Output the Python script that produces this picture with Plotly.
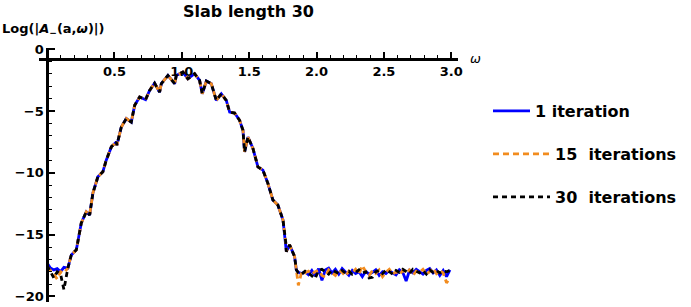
import plotly.graph_objects as go

# ---- data ----
omega_low = [0.000, 0.025, 0.050, 0.075, 0.100, 0.125]
logA_low_1 = [-17.3, -17.7, -17.85, -17.75, -18.0, -17.65]
logA_low_15 = [-17.6, -17.9, -18.2, -18.6, -18.0, -18.1]
logA_low_30 = [-17.5, -18.0, -18.5, -18.0, -18.2, -19.45]

omega_main = [0.154, 0.180, 0.217, 0.254, 0.291, 0.316, 0.340, 0.377, 0.414, 0.439,
              0.477, 0.514, 0.518, 0.551, 0.588, 0.625, 0.650, 0.687, 0.731, 0.761,
              0.798, 0.835, 0.848, 0.897, 0.947, 0.959, 1.008, 1.045, 1.095, 1.132,
              1.152, 1.182, 1.219, 1.256, 1.293, 1.330, 1.355, 1.392, 1.429, 1.454,
              1.466, 1.491, 1.528, 1.565, 1.602, 1.639, 1.676, 1.713, 1.751, 1.771,
              1.776, 1.800, 1.837, 1.850]
logA_main = [-17.71, -16.64, -16.23, -14.06, -13.15, -13.41, -11.64, -10.32, -9.92, -8.98,
             -7.90, -7.50, -7.77, -6.29, -5.61, -5.89, -4.54, -3.87, -4.08, -3.33,
             -2.74, -3.47, -2.79, -2.12, -2.79, -2.12, -1.85, -2.39, -1.98, -2.52,
             -3.60, -2.58, -2.79, -4.14, -3.60, -4.14, -5.08, -5.16, -5.75, -6.56,
             -8.31, -7.10, -8.03, -9.52, -9.78, -10.85, -12.20, -12.60, -13.81, -15.56,
             -16.37, -15.83, -16.77, -17.85]

omega_high = [1.865, 1.890, 1.915, 1.940, 1.965, 1.990, 2.015, 2.040, 2.065, 2.090,
              2.115, 2.140, 2.165, 2.190, 2.215, 2.240, 2.265, 2.290, 2.315, 2.340,
              2.365, 2.390, 2.415, 2.440, 2.465, 2.490, 2.515, 2.540, 2.565, 2.590,
              2.615, 2.640, 2.665, 2.690, 2.715, 2.740, 2.765, 2.790, 2.815, 2.840,
              2.865, 2.890, 2.915, 2.940, 2.965, 2.990]
logA_high_1 = [-18.05, -18.15, -18.0, -18.25, -17.9, -18.35, -17.75, -18.7, -17.85, -17.7,
               -18.1, -17.8, -18.2, -17.75, -18.05, -18.3, -17.9, -18.15, -18.0, -18.4,
               -17.95, -18.2, -18.05, -17.85, -18.3, -18.0, -18.15, -17.9, -18.1, -18.25,
               -17.85, -18.05, -18.75, -17.9, -18.1, -17.8, -18.0, -18.2, -17.9, -17.75,
               -18.1, -17.85, -18.3, -17.9, -18.4, -17.85]
logA_high_15 = [-19.1, -18.0, -18.1, -17.95, -18.2, -18.0, -17.9, -18.3, -18.45, -17.85,
                -18.1, -18.3, -17.9, -18.05, -18.35, -17.95, -18.1, -17.8, -18.2, -17.5,
                -18.0, -18.3, -17.9, -18.15, -17.85, -18.4, -18.05, -17.8, -18.2, -18.0,
                -18.25, -17.9, -18.1, -17.85, -18.3, -17.95, -18.05, -17.8, -18.2, -18.0,
                -17.7, -18.15, -17.9, -18.1, -18.9, -18.5]
logA_high_30 = [-18.1, -18.2, -17.95, -18.1, -18.3, -18.55, -17.9, -17.8, -18.0, -18.2,
                -17.85, -18.0, -18.15, -17.9, -18.1, -17.95, -18.2, -18.05, -17.85, -18.1,
                -18.0, -18.5, -18.45, -18.0, -17.9, -18.15, -17.85, -18.0, -18.2, -17.9,
                -18.05, -17.8, -18.0, -18.15, -17.8, -17.95, -18.1, -17.9, -18.2, -17.85,
                -18.05, -17.9, -18.1, -17.95, -18.0, -17.9]

series_names = ["1 iteration", "15\u00a0\u00a0iterations", "30\u00a0\u00a0iterations"]
series_colors = ["#0000FF", "#F28C1E", "#000000"]
x_ticks = [0.5, 1.0, 1.5, 2.0, 2.5, 3.0]
y_ticks = [0, -5, -10, -15, -20]

omega_all = omega_low + omega_main + omega_high
series_y = [logA_low_1 + logA_main + logA_high_1,
            logA_low_15 + logA_main + logA_high_15,
            logA_low_30 + logA_main + logA_high_30]
dashes = ["solid", "6px,4px", "5px,4px"]
legends = ["legend", "legend2", "legend3"]

fig = go.Figure()
for name, col, ys, d, lg in zip(series_names, series_colors, series_y, dashes, legends):
    fig.add_trace(go.Scatter(x=omega_all, y=ys, mode="lines", name=name, showlegend=True,
                             line=dict(color=col, width=2.8, dash=d), legend=lg))

W, H = 691, 307
ml, mr, mt, mb = 39, 233, 48, 5
pw, ph = W - ml - mr, H - mt - mb
xr = [-0.06, 3.05]
yr = [-20.45, 0.1]
x_axis_at = -0.8
xpos = (x_axis_at - yr[0]) / (yr[1] - yr[0])
ypos = (0 - xr[0]) / (xr[1] - xr[0])

def px_x(p):
    return (p - ml) / pw

def px_y(p):
    return (H - mb - p) / ph

font_b = dict(family="DejaVu Sans", size=13, color="black", weight="bold")
leg_font = dict(family="DejaVu Sans", size=16, color="black", weight="bold")

fig.update_layout(
    width=W, height=H, autosize=False, showlegend=True,
    margin=dict(l=ml, r=mr, t=mt, b=mb, pad=0, autoexpand=False),
    paper_bgcolor="white", plot_bgcolor="white",
    title=dict(text="Slab length 30", x=0.5, xref="paper", xanchor="center",
               y=1 - 11 / H, yanchor="middle",
               font=dict(family="DejaVu Sans", size=16, color="black", weight="bold")),
    xaxis=dict(range=xr, anchor="free", position=xpos, showline=True, linecolor="black",
               linewidth=2.5, showgrid=False, zeroline=False, ticks="inside", ticklen=6,
               tickwidth=1.5, tickcolor="black", tickvals=x_ticks, tickformat=".1f",
               tickfont=font_b, automargin=False,
               minor=dict(dtick=0.1, tick0=0, ticks="inside", ticklen=3, tickwidth=1.2,
                          tickcolor="black", showgrid=False)),
    yaxis=dict(range=yr, anchor="free", position=ypos, showline=True, linecolor="black",
               linewidth=2.5, showgrid=False, zeroline=False, ticks="inside", ticklen=6,
               tickwidth=1.5, tickcolor="black", tickvals=y_ticks, tickfont=font_b,
               automargin=False,
               minor=dict(dtick=1, tick0=0, ticks="inside", ticklen=3, tickwidth=1.2,
                          tickcolor="black", showgrid=False)),
    legend=dict(x=px_x(488), y=px_y(111), xanchor="left", yanchor="middle",
                font=leg_font, itemwidth=37, bgcolor="rgba(0,0,0,0)"),
    legend2=dict(x=px_x(488), y=px_y(154), xanchor="left", yanchor="middle",
                 font=leg_font, itemwidth=57, bgcolor="rgba(0,0,0,0)"),
    legend3=dict(x=px_x(488), y=px_y(197), xanchor="left", yanchor="middle",
                 font=leg_font, itemwidth=57, bgcolor="rgba(0,0,0,0)"),
)

fig.add_annotation(text="<b>Log(|<i>A</i><sub>\u2212</sub>(a,<i>\u03c9</i>)|)</b>",
                   xref="paper", yref="paper", x=px_x(0), y=px_y(30),
                   xanchor="left", yanchor="middle", showarrow=False,
                   font=dict(family="DejaVu Sans", size=13, color="black"))
fig.add_annotation(text="<i>\u03c9</i>", xref="paper", yref="paper",
                   x=px_x(475), y=px_y(58), xanchor="center", yanchor="middle",
                   showarrow=False, font=dict(family="DejaVu Sans", size=13, color="black"))

# remove the browser's default 8px page margin so the figure fills the window
fig.write_html("out.html", config={"displayModeBar": False},
               post_script="document.body.style.margin='0';")
